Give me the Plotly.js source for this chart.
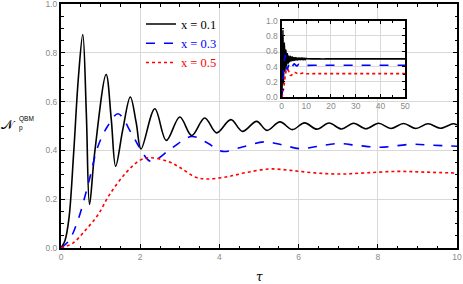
<!DOCTYPE html>
<html><head><meta charset="utf-8">
<script src="https://cdn.plot.ly/plotly-3.0.1.min.js"></script>
<style>html,body{margin:0;padding:0;background:#fff}#c{width:463px;height:284px}</style>
</head><body><div id="c"></div>
<script>
// Data
const seriesNames = ['x = 0.1', 'x = 0.3', 'x = 0.5'];
const tauBlack = [0,0.1,0.2,0.32,0.44,0.55,0.64,0.72,0.85,1.14,1.27,1.38,1.56,1.75,1.9,2.02,2.37,2.66,3.0,3.3,3.63,3.93,4.29,4.58,4.94,5.2,5.53,5.84,6.15,6.46,6.77,7.08,7.39,7.7,8.02,8.33,8.65,8.96,9.27,9.58,9.9,10];
const valBlack = [0,0.03,0.12,0.39,0.7,0.875,0.55,0.178,0.39,0.711,0.526,0.335,0.485,0.619,0.513,0.406,0.571,0.441,0.537,0.461,0.533,0.472,0.526,0.478,0.519,0.482,0.517,0.485,0.513,0.487,0.512,0.488,0.511,0.489,0.511,0.49,0.51,0.49,0.509,0.491,0.509,0.505];
const tauBlue = [0,0.2,0.43,0.7,0.93,1.18,1.44,1.78,1.99,2.27,2.8,3.3,3.7,4.08,4.6,5.15,5.6,6.04,6.5,7.0,7.5,8.06,8.87,9.4,10];
const valBlue = [0,0.03,0.115,0.27,0.415,0.5,0.55,0.47,0.41,0.355,0.41,0.457,0.43,0.396,0.415,0.435,0.422,0.407,0.417,0.428,0.42,0.413,0.425,0.421,0.417];
const tauRed = [0,0.3,0.6,0.93,1.23,1.65,2.0,2.24,2.7,3.0,3.4,3.7,4.2,4.7,5.28,5.8,6.4,7.05,7.7,8.5,9.2,10];
const valRed = [0,0.02,0.07,0.135,0.22,0.31,0.36,0.37,0.355,0.33,0.29,0.283,0.292,0.31,0.324,0.318,0.308,0.303,0.308,0.314,0.311,0.307];
// long-time tail shown only in the inset (tau up to 50)
const tailTau = [15,20,30,40,50];
const tailBlack = [0.5,0.5,0.5,0.5,0.5];
const tailBlue = [0.418,0.418,0.418,0.418,0.418];
const tailRed = [0.308,0.308,0.308,0.308,0.308];
const xTicks = [0,2,4,6,8,10];
const yTicks = [0,0.2,0.4,0.6,0.8,1.0];
const insetXTicks = [0,10,20,30,40,50];

const colors = ['black','blue','red'];
const dashes = ['solid','dash','dot'];
const mainX = [tauBlack,tauBlue,tauRed];
const mainY = [valBlack,valBlue,valRed];
const tails = [tailBlack,tailBlue,tailRed];

const traces = [];
for (let i=0;i<3;i++){
  traces.push({x:mainX[i], y:mainY[i], type:'scatter', mode:'lines',
    name:'<span style="color:'+colors[i]+'">'+seriesNames[i]+'</span>',
    line:{color:colors[i], width:1.6, dash:dashes[i], shape:'spline', smoothing:1},
    xaxis:'x', yaxis:'y', showlegend:true});
}
for (let i=0;i<3;i++){
  traces.push({x:mainX[i].concat(tailTau), y:mainY[i].concat(tails[i]), type:'scatter', mode:'lines',
    line:{color:colors[i], width:1.6, dash:dashes[i], shape:'spline', smoothing:1},
    xaxis:'x2', yaxis:'y2', showlegend:false});
}

const gray = '#8a8a8a';
const tickFont = {family:'Liberation Sans, Arial, sans-serif', size:8.5, color:gray};
const layout = {
  width:463, height:284,
  margin:{l:61, r:6, t:4, b:36},
  paper_bgcolor:'white', plot_bgcolor:'white',
  showlegend:true,
  legend:{x:0.202, y:0.978, xanchor:'left', yanchor:'top', bgcolor:'rgba(0,0,0,0)',
    font:{family:'Liberation Serif, Times New Roman, serif', size:12.5, color:'black'}},
  xaxis:{range:[0,10], tickvals:xTicks, ticktext:xTicks.map(String), showline:true, mirror:'ticks',
    linecolor:'black', linewidth:2, ticks:'inside', ticklen:4, tickcolor:'black', ticklabeloverflow:'allow',
    showgrid:true, gridcolor:'#d9d9d9', gridwidth:1, zeroline:false, tickfont:tickFont,
    minor:{dtick:0.5, ticks:'inside', ticklen:2.5, tickcolor:'black', showgrid:false}},
  yaxis:{range:[0,1], tickvals:yTicks, ticktext:yTicks.map(v=>v.toFixed(1)), showline:true, mirror:'ticks',
    linecolor:'black', linewidth:2, ticks:'inside', ticklen:4, tickcolor:'black', ticklabeloverflow:'allow',
    showgrid:true, gridcolor:'#d9d9d9', gridwidth:1, zeroline:false, tickfont:tickFont,
    minor:{dtick:0.05, ticks:'inside', ticklen:2.5, tickcolor:'black', showgrid:false}},
  xaxis2:{domain:[0.557,0.869], anchor:'y2', range:[0,50], tickvals:insetXTicks, ticktext:insetXTicks.map(String),
    showline:true, mirror:'ticks', linecolor:'black', linewidth:2, ticks:'inside', ticklen:3, tickcolor:'black',
    showgrid:true, gridcolor:'#d9d9d9', zeroline:false, tickfont:tickFont,
    minor:{dtick:5, ticks:'inside', ticklen:2, tickcolor:'black', showgrid:false}},
  yaxis2:{domain:[0.618,0.932], anchor:'x2', range:[0,1], tickvals:yTicks, ticktext:yTicks.map(v=>v.toFixed(1)),
    showline:true, mirror:'ticks', linecolor:'black', linewidth:2, ticks:'inside', ticklen:3, tickcolor:'black',
    showgrid:true, gridcolor:'#d9d9d9', zeroline:false, tickfont:tickFont,
    minor:{dtick:0.1, ticks:'inside', ticklen:2, tickcolor:'black', showgrid:false}},
  annotations:[
    {xref:'paper', yref:'paper', x:0.5, y:-0.12, yanchor:'middle', xanchor:'center', showarrow:false,
     text:'<i>τ</i>', font:{family:'DejaVu Serif, serif', size:12, color:'black'}},
    {xref:'paper', yref:'paper', x:-0.132, y:0.508, xanchor:'center', yanchor:'middle', showarrow:false,
     text:'𝒩', font:{family:'DejaVu Serif, Noto Sans, serif', size:13, color:'black'}},
    {xref:'paper', yref:'paper', x:-0.088, y:0.527, xanchor:'center', yanchor:'middle', showarrow:false,
     text:'QBM', font:{family:'Liberation Sans, Arial, sans-serif', size:6.5, color:'black'}},
    {xref:'paper', yref:'paper', x:-0.102, y:0.49, xanchor:'center', yanchor:'middle', showarrow:false,
     text:'p', font:{family:'Liberation Sans, Arial, sans-serif', size:6.5, color:'black'}}
  ]
};
Plotly.newPlot('c', traces, layout, {staticPlot:true, displayModeBar:false});
</script></body></html>
